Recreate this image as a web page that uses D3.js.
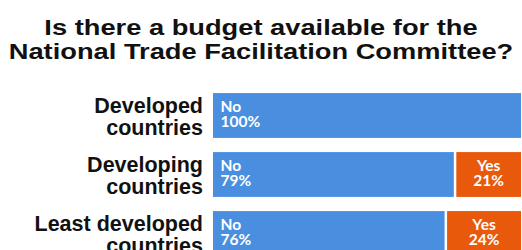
<!DOCTYPE html>
<html lang="en">
<head>
<meta charset="utf-8">
<title>NTFC budget</title>
<script src="https://d3js.org/d3.v7.min.js"></script>
<style>
  body { margin: 0; background: #fff; }
  .title { font: bold 22px "Liberation Sans", Arial, sans-serif; fill: #111; }
  .cat { font: bold 21.5px "Liberation Sans", Arial, sans-serif; fill: #111; }
  .seg-label { font: bold 15.5px Lato, sans-serif; fill: #fff; }
</style>
</head>
<body>
<div id="chart"></div>
<script>
// data
var categories = [["Developed", "countries"], ["Developing", "countries"], ["Least developed", "countries"]];
var noValues  = [100, 79, 76];
var yesValues = [0, 21, 24];
var titleLines = ["Is there a budget available for the", "National Trade Facilitation Committee?"];

var width = 522, height = 250;

var svg = d3.select("#chart").append("svg")
    .attr("width", width)
    .attr("height", height);

// title is drawn a little wide, like the original artwork
svg.selectAll(".title")
    .data(titleLines)
  .enter().append("text")
    .attr("class", "title")
    .attr("transform", function(d, i) { return "translate(261," + (35 + i * 23.5) + ") scale(1.24,1)"; })
    .attr("text-anchor", "middle")
    .text(function(d) { return d; });

var rows = categories.map(function(c, i) {
  return { key: c.join(" "), lines: c, no: noValues[i], yes: yesValues[i] };
});

var x = d3.scaleLinear().domain([0, 100]).range([213, 521]);
var y = d3.scaleBand()
    .domain(rows.map(function(d) { return d.key; }))
    .range([86, 263])
    .paddingInner(0.24)
    .paddingOuter(0.12);

var gap = 2.5;

var row = svg.selectAll(".row")
    .data(rows)
  .enter().append("g")
    .attr("class", "row")
    .attr("transform", function(d) { return "translate(0," + y(d.key) + ")"; });

var bh = y.bandwidth(), mid = bh / 2;

// category labels
row.append("text")
    .attr("class", "cat")
    .attr("text-anchor", "end")
    .selectAll("tspan")
    .data(function(d) { return d.lines; })
  .enter().append("tspan")
    .attr("x", 203)
    .attr("y", function(d, i) { return mid - 2 + i * 22; })
    .text(function(d) { return d; });

// No segment
row.append("rect")
    .attr("x", x(0))
    .attr("width", function(d) { return x(d.no) - x(0) - (d.yes > 0 ? gap : 0); })
    .attr("height", bh)
    .attr("fill", "#4a8fdf");

// Yes segment
row.filter(function(d) { return d.yes > 0; }).append("rect")
    .attr("x", function(d) { return x(d.no); })
    .attr("width", function(d) { return x(d.no + d.yes) - x(d.no); })
    .attr("height", bh)
    .attr("fill", "#e8590c");

function segLabel(sel, xpos, anchor, word, val) {
  var t = sel.append("text")
      .attr("class", "seg-label")
      .attr("text-anchor", anchor);
  t.append("tspan").attr("x", xpos).attr("y", mid - 3).text(word);
  t.append("tspan").attr("x", xpos).attr("y", mid + 12).text(val);
}

row.each(function(d) {
  var g = d3.select(this);
  segLabel(g, x(0) + 7.5, "start", "No", d.no + "%");
  if (d.yes > 0) {
    segLabel(g, (x(d.no) + x(100)) / 2, "middle", "Yes", d.yes + "%");
  }
});
</script>
</body>
</html>
